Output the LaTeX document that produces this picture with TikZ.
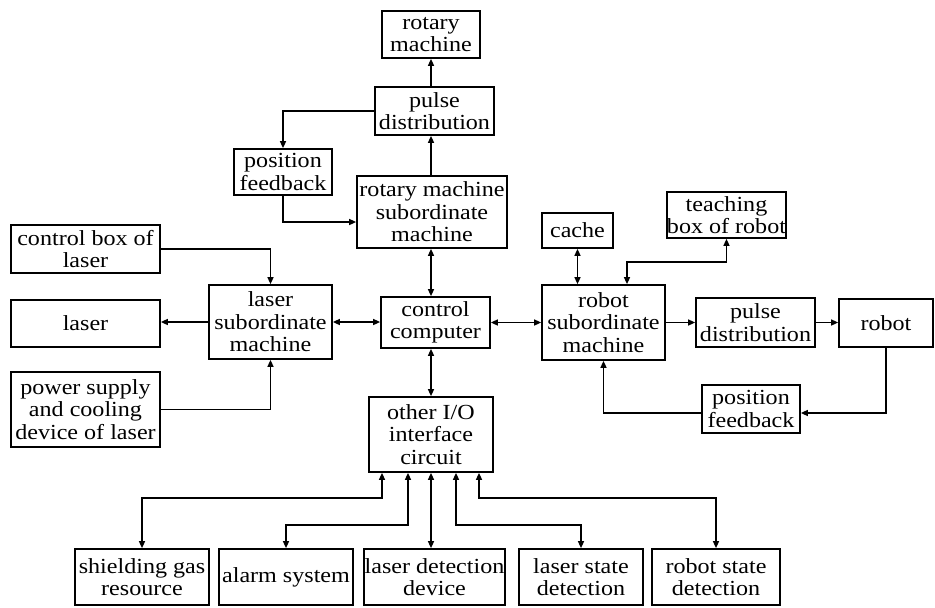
\documentclass[tikz,border=0pt]{standalone}
\usepackage{fontspec}
\setmainfont{Liberation Serif}[FakeStretch=1.12]
\usetikzlibrary{arrows.meta}

\begin{document}
\begin{tikzpicture}[x=1pt, y=-1pt,
    blk/.style={draw, line width=1.7pt, align=center, inner sep=0pt},
    link/.style={line width=1.4pt},
    >={Triangle[length=7pt, width=6pt]},
    font=\fontsize{21.5}{22.5}\selectfont]
  \useasboundingbox (0,0) rectangle (935,608);

  \node[blk, minimum width=98, minimum height=47] (rotm) at (431, 34.5) {rotary\\machine};
  \node[blk, minimum width=119, minimum height=48] (pulT) at (434.5, 111) {pulse\\distribution};
  \node[blk, minimum width=98, minimum height=46] (posT) at (283, 172) {position\\feedback};
  \node[blk, minimum width=150, minimum height=72] (rotsub) at (432, 212) {rotary machine\\subordinate\\machine};
  \node[blk, minimum width=149, minimum height=48] (cbox) at (85.5, 249) {control box of\\laser};
  \node[blk, minimum width=149, minimum height=47] (laser) at (85.5, 323.5) {laser};
  \node[blk, minimum width=149, minimum height=75] (power) at (85.5, 409.5) {power supply\\and cooling\\device of laser};
  \node[blk, minimum width=123, minimum height=74] (lsub) at (270.5, 322) {laser\\subordinate\\machine};
  \node[blk, minimum width=109, minimum height=51] (cc) at (435.5, 322.5) {control\\computer};
  \node[blk, minimum width=123, minimum height=75] (rsub) at (603.5, 322.5) {robot\\subordinate\\machine};
  \node[blk, minimum width=71, minimum height=35] (cache) at (577.5, 230.5) {cache};
  \node[blk, minimum width=119, minimum height=46] (teach) at (726.5, 215) {teaching\\box of robot};
  \node[blk, minimum width=119, minimum height=49] (pulR) at (755.5, 322.5) {pulse\\distribution};
  \node[blk, minimum width=94, minimum height=48] (robot) at (886, 323) {robot};
  \node[blk, minimum width=98, minimum height=48] (posR) at (751, 409) {position\\feedback};
  \node[blk, minimum width=124, minimum height=75] (io) at (431, 434.5) {other I/O\\interface\\circuit};
  \node[blk, minimum width=134, minimum height=56] (gas) at (142, 577) {shielding gas\\resource};
  \node[blk, minimum width=134, minimum height=56] (alarm) at (286, 577) {alarm system};
  \node[blk, minimum width=141, minimum height=56] (ldet) at (434.5, 577) {laser detection\\device};
  \node[blk, minimum width=124, minimum height=56] (lstate) at (581, 577) {laser state\\detection};
  \node[blk, minimum width=128, minimum height=56] (rstate) at (716, 577) {robot state\\detection};

  \draw[link, ->] (pulT.north -| rotm) -- (rotm.south);
  \draw[link, ->] (rotsub.north -| rotm) -- (pulT.south -| rotm);
  \draw[link, ->] (pulT.west) -| (posT.north);
  \draw[link, ->] (posT.south) |- ([yshift=-10pt]rotsub.west);
  \draw[link, <->] (rotsub.south -| io) -- (cc.north -| io);
  \draw[link, ->] (cbox.east) -| (lsub.north);
  \draw[link, ->] (lsub.west) -- (lsub.west -| laser.east);
  \draw[link, ->] (power.east) -| (lsub.south);
  \draw[link, <->] (lsub.east) -- (lsub.east -| cc.west);
  \draw[link, <->] (cc.east) -- (cc.east -| rsub.west);
  \draw[link, <->] (cache.south) -- (cache.south |- rsub.north);
  \draw[link, <->] ([xshift=23.5pt]rsub.north) |- ++(0,-22) -| (teach.south);
  \draw[link, ->] (rsub.east) -- (pulR.west);
  \draw[link, ->] (pulR.east) -- (pulR.east -| robot.west);
  \draw[link, ->] (robot.south) |- ([yshift=-4pt]posR.east);
  \draw[link, ->] ([yshift=-4pt]posR.west) -| (rsub.south);
  \draw[link, <->] (cc.south -| io) -- (io.north);

  \draw[link, <->] ([xshift=-49pt]io.south) |- ++(0,25) -| (gas.north);
  \draw[link, <->] ([xshift=-23pt]io.south) |- ++(0,52) -| (alarm.north);
  \draw[link, <->] (io.south) -- (io.south |- ldet.north);
  \draw[link, <->] ([xshift=25pt]io.south) |- ++(0,52) -| (lstate.north);
  \draw[link, <->] ([xshift=48pt]io.south) |- ++(0,25) -| (rstate.north);
\end{tikzpicture}
\end{document}
